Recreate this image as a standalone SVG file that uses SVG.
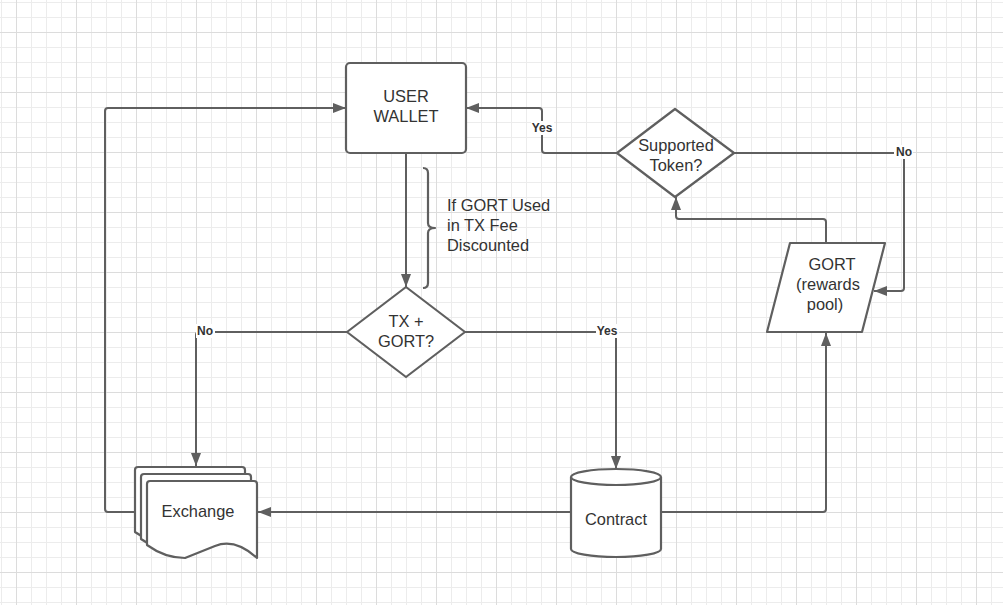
<svg xmlns="http://www.w3.org/2000/svg" width="1003" height="605" viewBox="0 0 1003 605">
<defs>
<pattern id="grid" patternUnits="userSpaceOnUse" x="16" y="32" width="60" height="60">
<rect x="0" y="0" width="60" height="60" fill="#ffffff"/>
<rect x="15" y="0" width="1" height="60" fill="#ececec"/>
<rect x="30" y="0" width="1" height="60" fill="#ececec"/>
<rect x="45" y="0" width="1" height="60" fill="#ececec"/>
<rect x="0" y="15" width="60" height="1" fill="#ececec"/>
<rect x="0" y="30" width="60" height="1" fill="#ececec"/>
<rect x="0" y="45" width="60" height="1" fill="#ececec"/>
<rect x="0" y="0" width="1" height="60" fill="#dcdcdc"/>
<rect x="0" y="0" width="60" height="1" fill="#dcdcdc"/>
</pattern>
<marker id="arr" markerUnits="userSpaceOnUse" markerWidth="14" markerHeight="11" refX="13" refY="5" orient="auto">
<path d="M0,0 L13,5 L0,10 Z" fill="#5f5f5f"/>
</marker>
</defs>
<style>
.shape{fill:#ffffff;stroke:#5f5f5f;stroke-width:2.2;stroke-linejoin:round}
.conn{fill:none;stroke:#5f5f5f;stroke-width:2;stroke-linejoin:round}
.txt{font-family:"Liberation Sans",Arial,sans-serif;font-size:16.4px;fill:#333333;text-anchor:middle}
.note{font-family:"Liberation Sans",Arial,sans-serif;font-size:16.4px;fill:#333333}
.lbl{font-family:"Liberation Sans",Arial,sans-serif;font-size:12px;font-weight:bold;fill:#333333;text-anchor:middle}
.lblbg{fill:#ffffff}
</style>
<rect x="0" y="0" width="1003" height="605" fill="url(#grid)"/>

<g id="connectors">
<path class="conn" d="M406,153 L406,287" marker-end="url(#arr)"/>
<path class="conn" d="M347,332 L199,332 Q196,332 196,335 L196,466" marker-end="url(#arr)"/>
<path class="conn" d="M465,332 L613,332 Q616,332 616,335 L616,469" marker-end="url(#arr)"/>
<path class="conn" d="M571,512 L258,512" marker-end="url(#arr)"/>
<path class="conn" d="M135,512 L108,512 Q105,512 105,509 L105,111 Q105,108 108,108 L346,108" marker-end="url(#arr)"/>
<path class="conn" d="M661,512 L823,512 Q826,512 826,509 L826,333" marker-end="url(#arr)"/>
<path class="conn" d="M826,243 L826,222 Q826,219 823,219 L679,219 Q676,219 676,216 L676,197" marker-end="url(#arr)"/>
<path class="conn" d="M617,153 L545,153 Q542,153 542,150 L542,111 Q542,108 539,108 L466,108" marker-end="url(#arr)"/>
<path class="conn" d="M734,153 L901,153 Q904,153 904,156 L904,288 Q904,291 901,291 L874,291" marker-end="url(#arr)"/>
<rect class="lblbg" x="531" y="121" width="23" height="14"/>
<text class="lbl" x="542" y="132">Yes</text>
<rect class="lblbg" x="894" y="145" width="19" height="14"/>
<text class="lbl" x="904" y="156">No</text>
<rect class="lblbg" x="196" y="324" width="19" height="14"/>
<text class="lbl" x="205" y="335">No</text>
<rect class="lblbg" x="596" y="324" width="23" height="14"/>
<text class="lbl" x="607" y="335">Yes</text>
</g>

<g id="user-wallet">
<rect class="shape" x="346" y="63" width="120" height="90" rx="4"/>
<text class="txt" x="406" y="102">USER</text>
<text class="txt" x="406" y="122">WALLET</text>
</g>

<g id="fee-note">
<path class="conn" style="stroke-width:2.2" d="M423,168 Q428,168 428,173 L428,223 Q428,228 435,228 Q428,228 428,233 L428,283 Q428,288 423,288"/>
<text class="note" x="447" y="211">If GORT Used</text>
<text class="note" x="447" y="231">in TX Fee</text>
<text class="note" x="447" y="251">Discounted</text>
</g>

<g id="tx-gort">
<path class="shape" d="M406,287 L465,332 L406,377 L347,332 Z"/>
<text class="txt" x="406" y="327">TX +</text>
<text class="txt" x="406" y="347">GORT?</text>
</g>

<g id="supported-token">
<path class="shape" d="M675,109 L734,153 L675,197 L617,153 Z"/>
<text class="txt" x="676" y="151">Supported</text>
<text class="txt" x="676" y="171">Token?</text>
</g>

<g id="gort-pool">
<path class="shape" d="M790,243 L885,243 L862,332 L767,332 Z"/>
<text class="txt" x="832" y="270">GORT</text>
<text class="txt" x="828" y="290">(rewards</text>
<text class="txt" x="825" y="310">pool)</text>
</g>

<g id="contract">
<path class="shape" d="M571,477 A45,8 0 0 1 661,477 L661,549 A45,8 0 0 1 571,549 Z"/>
<path class="conn" style="stroke-width:2.2" d="M571,477 A45,8 0 0 0 661,477"/>
<text class="txt" x="616" y="525">Contract</text>
</g>

<g id="exchange">
<path class="shape" d="M138,467 L242,467 Q245,467 245,470 L245,545 Q223,525 203,533 Q188,539 173,545 Q153,545 135,532 L135,470 Q135,467 138,467 Z"/>
<path class="shape" d="M144,474 L248,474 Q251,474 251,477 L251,552 Q229,532 209,540 Q194,546 179,552 Q159,552 141,539 L141,477 Q141,474 144,474 Z"/>
<path class="shape" d="M150,481 L254,481 Q257,481 257,484 L257,558 Q235,538 215,546 Q200,552 185,558 Q165,558 147,545 L147,484 Q147,481 150,481 Z"/>
<text class="txt" x="198" y="517">Exchange</text>
</g>
</svg>
